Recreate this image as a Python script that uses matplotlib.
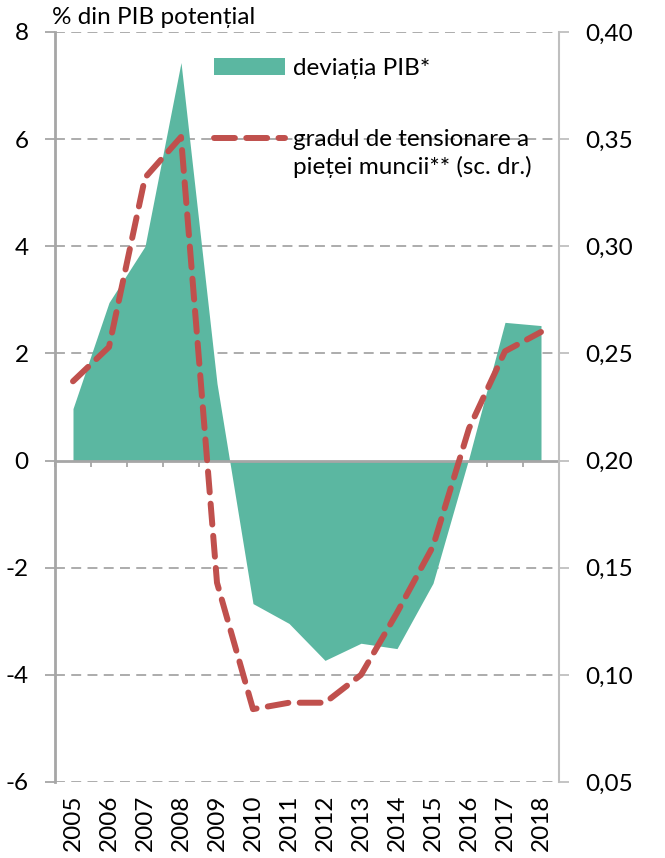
import matplotlib
matplotlib.use("Agg")
import matplotlib.pyplot as plt
from matplotlib.patches import Patch
from matplotlib.lines import Line2D
from matplotlib.ticker import FuncFormatter, FixedLocator

# data
years = [2005, 2006, 2007, 2008, 2009, 2010, 2011, 2012, 2013, 2014, 2015, 2016, 2017, 2018]
gdp_gap = [0.97, 2.95, 4.0, 7.43, 1.44, -2.67, -3.04, -3.73, -3.41, -3.51, -2.29, 0.05, 2.58, 2.52]
labour_tension = [0.237, 0.253, 0.332, 0.351, 0.143, 0.084, 0.087, 0.087, 0.100, 0.129, 0.160, 0.215, 0.251, 0.260]

left_ticks = [-6, -4, -2, 0, 2, 4, 6, 8]
right_ticks = [0.05, 0.10, 0.15, 0.20, 0.25, 0.30, 0.35, 0.40]

green = "#5bb7a1"
red = "#c0504d"
grey = "#a6a6a6"
fs = 17.5

plt.rcParams['font.family'] = ['Lato', 'DejaVu Sans']
plt.rcParams['font.size'] = fs

fig = plt.figure(figsize=(6.65, 8.58), dpi=100)
ax = fig.add_axes([55/665, 1-782/858, 504/665, 750/858])
x = list(range(len(years)))

# area
ax.fill_between(x, gdp_gap, 0, color=green, linewidth=0, zorder=2)
ax.axhline(0, color=grey, lw=2, zorder=3)

ax.set_xlim(-0.5, len(years) - 0.5)
ax.set_ylim(-6, 8)
ax.set_yticks(left_ticks)
ax.yaxis.set_major_formatter(FuncFormatter(lambda v, p: "%d" % v))
for t in left_ticks:
    if t != 0:
        ax.axhline(t, color=grey, lw=1.3, ls=(0, (5.5, 3.5)), zorder=1)
ax.tick_params(axis='y', length=7, width=1.3, color=grey, pad=12)

# category axis crosses at 0 (tick marks only)
ax.spines['bottom'].set_visible(False)
ax.spines['bottom'].set_position(('data', 0))
ax.xaxis.set_major_locator(FixedLocator([i - 0.5 for i in range(len(years) + 1)]))
ax.tick_params(axis='x', direction='out', length=4, width=1.3, color=grey, labelbottom=False)
for s in ['top', 'right']:
    ax.spines[s].set_visible(False)
ax.spines['left'].set_color(grey)
ax.spines['left'].set_linewidth(2)

sec = ax.secondary_xaxis(0.0)
sec.set_xticks(x)
sec.set_xticklabels([str(y) for y in years], rotation=90)
sec.tick_params(length=0, pad=9)
sec.spines['bottom'].set_visible(False)

# right axis line
dash = (0, (3.5, 1.9))
ax2 = ax.twinx()
ax2.plot(x, labour_tension, color=red, lw=4.3, ls=dash,
         dash_capstyle='round', solid_joinstyle='round', zorder=5)
ax2.set_ylim(0.05, 0.40)
ax2.set_yticks(right_ticks)
ax2.yaxis.set_major_formatter(FuncFormatter(lambda v, p: ("%.2f" % v).replace('.', ',')))
ax2.tick_params(axis='y', length=7, width=1.3, color="#bfbfbf", pad=12)
for s in ['top', 'left', 'bottom']:
    ax2.spines[s].set_visible(False)
ax2.spines['right'].set_color("#bfbfbf")
ax2.spines['right'].set_linewidth(1.5)

handles = [Patch(facecolor=green, edgecolor='none'),
           Line2D([], [], color=red, lw=4.3, ls=dash, dash_capstyle='round')]
labels = ["deviația PIB*", "gradul de tensionare a"]
leg = ax2.legend(handles, labels, loc='upper left', bbox_to_anchor=(0.315, 0.966),
                 frameon=False, handlelength=2.95, handletextpad=0.3,
                 labelspacing=2.08, borderpad=0, borderaxespad=0)
# second line of the second label
ax2.annotate("pieței muncii** (sc. dr.)", xy=(0, 0), xycoords=leg.get_texts()[1],
             xytext=(0, -28), textcoords='offset pixels', ha='left', va='bottom',
             fontsize=fs, zorder=10)

fig.text(52/665, 1-17/858, "% din PIB potențial", va='center', ha='left', fontsize=fs)

fig.canvas.draw()
plt.savefig("out.png", dpi=100)
